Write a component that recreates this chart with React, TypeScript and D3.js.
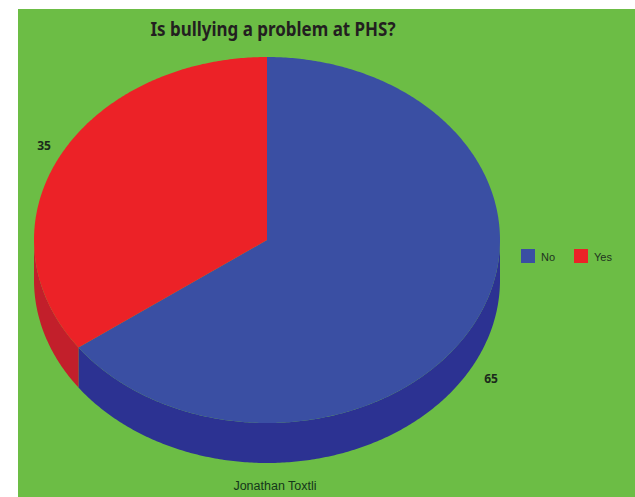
import React from "react";
import * as d3 from "d3";

const categories = ["No", "Yes"];
const values = [65, 35];
const sliceColors = ["#3a4fa3", "#ec2227"];
const sideColors = ["#2c3292", "#c21f2b"];
const title = "Is bullying a problem at PHS?";
const author = "Jonathan Toxtli";

const W = 635;
const H = 497;
const cx = 267;
const cy = 240;
const rx = 233;
const ry = 183;
const depth = 40;

function pt(a: number, dy = 0): [number, number] {
  return [cx + rx * Math.sin(a), cy - ry * Math.cos(a) + dy];
}

function sample(a0: number, a1: number, dy = 0): [number, number][] {
  const n = Math.max(2, Math.ceil(Math.abs(a1 - a0) / 0.01));
  return d3.range(n + 1).map((i) => pt(a0 + ((a1 - a0) * i) / n, dy));
}

export default function App() {
  const pie = d3.pie<number>().sort(null).value((d) => d);
  const arcs = pie(values);
  const line = d3.line();

  const walls = arcs
    .map((a, i) => {
      const s = Math.max(a.startAngle, Math.PI / 2);
      const e = Math.min(a.endAngle, (3 * Math.PI) / 2);
      if (e <= s) return null;
      const pts = [...sample(s, e), ...sample(e, s, depth)];
      return { d: line(pts) + "Z", fill: sideColors[i], key: i };
    })
    .filter(Boolean) as { d: string; fill: string; key: number }[];

  const tops = arcs.map((a, i) => {
    const pts: [number, number][] = [[cx, cy], ...sample(a.startAngle, a.endAngle)];
    return { d: line(pts) + "Z", fill: sliceColors[i], key: i };
  });

  return (
    <svg width={W} height={H} style={{ position: "absolute", left: 0, top: 0 }}>
      <rect x={0} y={0} width={W} height={H} fill="#ffffff" />
      <rect x={18} y={9} width={W - 18} height={H - 9} fill="#6cbd45" />
      <text
        x={273}
        y={36}
        textAnchor="middle"
        fontFamily="'Noto Sans', sans-serif"
        fontWeight="bold"
        fontSize={20}
        fill="#231f20"
        textLength={245}
        lengthAdjust="spacingAndGlyphs"
      >
        {title}
      </text>
      {walls.map((w) => (
        <path key={"w" + w.key} d={w.d} fill={w.fill} />
      ))}
      {tops.map((t) => (
        <path key={"t" + t.key} d={t.d} fill={t.fill} />
      ))}
      <text x={44} y={150} textAnchor="middle" fontFamily="'Noto Sans', sans-serif" fontWeight="bold" fontSize={12} fill="#1b2a1b">
        {values[1]}
      </text>
      <text x={491} y={383} textAnchor="middle" fontFamily="'Noto Sans', sans-serif" fontWeight="bold" fontSize={12} fill="#1b2a1b">
        {values[0]}
      </text>
      {categories.map((c, i) => (
        <g key={c} transform={`translate(${521 + i * 53},249)`}>
          <rect x={0} y={0} width={14} height={14} fill={sliceColors[i]} />
          <text x={20} y={12} fontFamily="'Liberation Sans', Arial, sans-serif" fontSize={11} fill="#1e3320">
            {c}
          </text>
        </g>
      ))}
      <text x={275} y={490} textAnchor="middle" fontFamily="'Liberation Sans', Arial, sans-serif" fontSize={12.5} fill="#14361a">
        {author}
      </text>
    </svg>
  );
}
